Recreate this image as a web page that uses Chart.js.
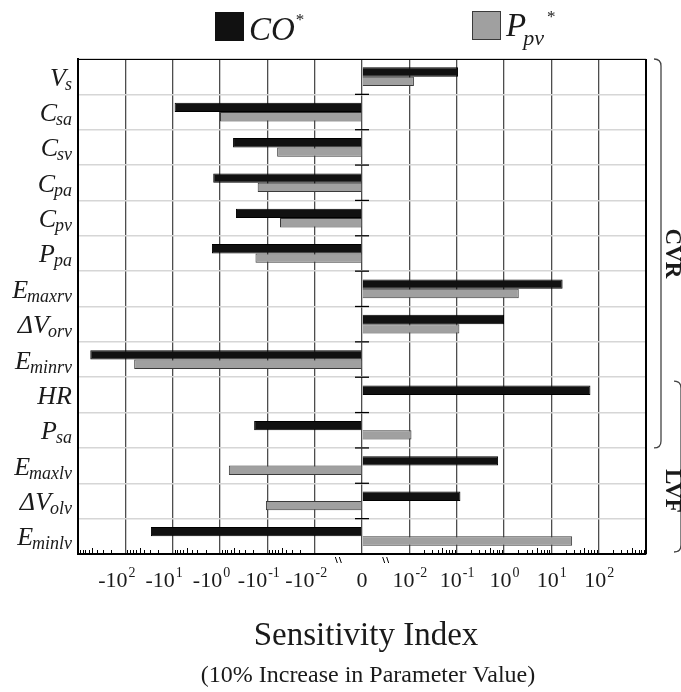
<!DOCTYPE html>
<html>
<head>
<meta charset="utf-8">
<title>Sensitivity Index</title>
<script src="https://cdn.jsdelivr.net/npm/chart.js@4.4.1/dist/chart.umd.min.js"></script>
<style>
  html, body { margin: 0; padding: 0; background: #fff; }
  canvas { display: block; }
</style>
</head>
<body>
<canvas id="sensitivity" width="681" height="692"></canvas>
<script>
// parameter names: symbol + subscript
const paramSymbols = ['V', 'C', 'C', 'C', 'C', 'P', 'E', 'ΔV', 'E', 'HR', 'P', 'E', 'ΔV', 'E'];
const paramSubscripts = ['s', 'sa', 'sv', 'pa', 'pv', 'pa', 'maxrv', 'orv', 'minrv', '', 'sa', 'maxlv', 'olv', 'minlv'];
const categories = paramSymbols.map((s, i) => paramSubscripts[i] ? s + '_' + paramSubscripts[i] : s);

// sensitivity of CO* and Ppv* to a 10% parameter increase
const coValues  = [0.107, -9.1, -0.53, -1.39, -0.46, -1.48, 17.3, 1.0, -550, 67, -0.19, 0.75, 0.12, -28.8];
const ppvValues = [0.0125, -1.0, -0.062, -0.16, -0.054, -0.178, 2.05, 0.114, -65, null, 0.0111, -0.65, -0.107, 27.5];

const xTicks = [-100, -10, -1, -0.1, -0.01, 0, 0.01, 0.1, 1, 10, 100];
const xMin = -1000;
const xMax = 1000;

// parameter groups marked with braces on the right
const groupNames = ['CVR', 'LVF'];
const groupFirst = [0, 9];
const groupLast = [10, 13];

const SERIF = '"Liberation Serif", "DejaVu Serif", serif';
const LINEAR_DECADE = 3; // 10^-3 sits on the zero line

// symmetric log: each decade is one unit, the band around zero is linearised away
function toAxis(v) {
    if (v === 0) return 0;
    return Math.sign(v) * (Math.log10(Math.abs(v)) + LINEAR_DECADE);
}
function fromAxis(t) {
    if (t === 0) return 0;
    return Math.sign(t) * Math.pow(10, Math.abs(t) - LINEAR_DECADE);
}

class SymLogScale extends Chart.LinearScale {
    determineDataLimits() {
        this.min = toAxis(this.options.min);
        this.max = toAxis(this.options.max);
    }
    buildTicks() {
        return xTicks.map(v => ({ value: v }));
    }
    getPixelForValue(value) {
        return value === null || value === undefined ? NaN : super.getPixelForValue(toAxis(value));
    }
    getValueForPixel(pixel) {
        return fromAxis(super.getValueForPixel(pixel));
    }
}
SymLogScale.id = 'symlog';
SymLogScale.defaults = {};
Chart.register(SymLogScale);

function textWidth(ctx, font, s) {
    ctx.font = font;
    return ctx.measureText(s).width;
}

const decorations = {
    id: 'decorations',
    afterDraw(chart) {
        const { ctx, chartArea: area, scales: { x, y } } = chart;
        const band = (y.getPixelForValue(1) - y.getPixelForValue(0));
        const zeroX = x.getPixelForValue(0);
        ctx.save();
        ctx.fillStyle = '#1a1a1a';
        ctx.strokeStyle = '#000';

        // top and right frame
        ctx.lineWidth = 1.2;
        ctx.beginPath();
        ctx.moveTo(area.left, area.top + 0.5);
        ctx.lineTo(area.right, area.top + 0.5);
        ctx.stroke();
        ctx.lineWidth = 2;
        ctx.beginPath();
        ctx.moveTo(area.right, area.top);
        ctx.lineTo(area.right, area.bottom);
        ctx.stroke();

        // short ticks on the zero line at each row boundary
        ctx.lineWidth = 1.3;
        for (let i = 1; i < categories.length; i++) {
            const by = y.getPixelForValue(i) - band / 2;
            ctx.beginPath();
            ctx.moveTo(zeroX - 7, by);
            ctx.lineTo(zeroX + 7, by);
            ctx.stroke();
        }

        // minor log ticks along the bottom axis
        ctx.lineWidth = 1;
        for (let e = -2; e <= 2; e++) {
            for (let k = 2; k <= 9; k++) {
                [1, -1].forEach(s => {
                    const px = Math.round(x.getPixelForValue(s * k * Math.pow(10, e))) + 0.5;
                    ctx.beginPath();
                    ctx.moveTo(px, area.bottom);
                    ctx.lineTo(px, area.bottom - (k === 5 ? 6 : 4));
                    ctx.stroke();
                });
            }
        }

        // axis break marks either side of zero
        [-0.01, 0.01].forEach(v => {
            const mx = (zeroX + x.getPixelForValue(v)) / 2;
            [-2, 2].forEach(d => {
                ctx.beginPath();
                ctx.moveTo(mx + d - 1, area.bottom + 3);
                ctx.lineTo(mx + d + 1, area.bottom + 9);
                ctx.stroke();
            });
        });

        // x tick labels with exponents
        const baseFont = `22px ${SERIF}`;
        const supFont = `14px ${SERIF}`;
        ctx.textBaseline = 'alphabetic';
        ctx.textAlign = 'left';
        xTicks.forEach(v => {
            const px = x.getPixelForValue(v);
            if (v === 0) {
                ctx.font = baseFont;
                ctx.textAlign = 'center';
                ctx.fillText('0', px, 587);
                ctx.textAlign = 'left';
                return;
            }
            const base = (v < 0 ? '-' : '') + '10';
            const exp = String(Math.round(Math.log10(Math.abs(v))));
            const wBase = textWidth(ctx, baseFont, base);
            const wExp = textWidth(ctx, supFont, exp);
            let left = px - (wBase + wExp) / 2;
            if (v < 0) left -= 9;
            ctx.font = baseFont;
            ctx.fillText(base, left, 587);
            ctx.font = supFont;
            ctx.fillText(exp, left + wBase + 1, 577);
        });

        // parameter labels
        ctx.textAlign = 'right';
        const labelRight = 72;
        categories.forEach((_, i) => {
            const cy = y.getPixelForValue(i);
            const sub = paramSubscripts[i];
            let subW = 0;
            if (sub) {
                ctx.font = `italic 18px ${SERIF}`;
                subW = ctx.measureText(sub).width;
                ctx.fillText(sub, labelRight, cy + 13);
            }
            ctx.font = `italic 26px ${SERIF}`;
            ctx.fillText(paramSymbols[i], labelRight - subW + (sub ? 1 : 0), cy + 9);
        });

        // group braces
        ctx.strokeStyle = '#444';
        ctx.lineWidth = 1.3;
        const braceX = [661, 681];
        const braceInset = [4, 4];
        groupNames.forEach((name, g) => {
            const top = y.getPixelForValue(groupFirst[g]) - band / 2 + braceInset[g] * g;
            const bottom = y.getPixelForValue(groupLast[g]) + band / 2 - (g ? 2 : 0);
            const bx = braceX[g];
            ctx.beginPath();
            ctx.moveTo(bx - 7, top);
            ctx.quadraticCurveTo(bx, top, bx, top + 7);
            ctx.lineTo(bx, bottom - 7);
            ctx.quadraticCurveTo(bx, bottom, bx - 7, bottom);
            ctx.stroke();
        });
        ctx.font = `bold 23px ${SERIF}`;
        ctx.textAlign = 'center';
        ctx.textBaseline = 'middle';
        const groupLabelY = [
            (y.getPixelForValue(groupFirst[0]) + y.getPixelForValue(groupLast[0])) / 2,
            y.getPixelForValue(12) - 10
        ];
        groupNames.forEach((name, g) => {
            ctx.save();
            ctx.translate(672, groupLabelY[g]);
            ctx.rotate(Math.PI / 2);
            ctx.fillText(name, 0, 0);
            ctx.restore();
        });

        // legend
        ctx.textBaseline = 'alphabetic';
        ctx.textAlign = 'left';
        const ds = chart.data.datasets;
        ctx.fillStyle = ds[0].backgroundColor;
        ctx.fillRect(215, 12, 29, 29);
        ctx.fillStyle = ds[1].backgroundColor;
        ctx.fillRect(472, 11, 29, 29);
        ctx.strokeStyle = ds[1].borderColor;
        ctx.lineWidth = 1;
        ctx.strokeRect(472.5, 11.5, 28, 28);
        ctx.fillStyle = '#1a1a1a';
        ctx.font = `italic 33px ${SERIF}`;
        ctx.fillText('CO', 249, 40);
        const coW = ctx.measureText('CO').width;
        ctx.font = `17px ${SERIF}`;
        ctx.fillText('*', 249 + coW + 1, 25);
        ctx.font = `italic 33px ${SERIF}`;
        ctx.fillText('P', 506, 36);
        const pW = ctx.measureText('P').width;
        ctx.font = `italic 22px ${SERIF}`;
        ctx.fillText('pv', 506 + pW - 3, 45);
        const pvW = ctx.measureText('pv').width;
        ctx.font = `17px ${SERIF}`;
        ctx.fillText('*', 506 + pW + pvW, 22);

        // axis title
        ctx.textAlign = 'center';
        ctx.font = `33px ${SERIF}`;
        ctx.fillText('Sensitivity Index', 366, 645);
        ctx.font = `24px ${SERIF}`;
        ctx.fillText('(10% Increase in Parameter Value)', 368, 682);

        ctx.restore();
    }
};

new Chart(document.getElementById('sensitivity'), {
    type: 'bar',
    data: {
        labels: categories,
        datasets: [
            {
                label: 'CO*',
                data: coValues,
                backgroundColor: '#111111',
                borderColor: '#000000',
                borderWidth: 1,
                categoryPercentage: 0.53,
                barPercentage: 1.0
            },
            {
                label: 'Ppv*',
                data: ppvValues,
                backgroundColor: '#a0a0a0',
                borderColor: '#3a3a3a',
                borderWidth: 1,
                categoryPercentage: 0.53,
                barPercentage: 1.0
            }
        ]
    },
    options: {
        indexAxis: 'y',
        responsive: false,
        animation: false,
        devicePixelRatio: 1,
        layout: { padding: { left: 78, right: 35, top: 59, bottom: 138 } },
        plugins: {
            legend: { display: false },
            tooltip: { enabled: false }
        },
        scales: {
            x: {
                type: 'symlog',
                min: xMin,
                max: xMax,
                grid: { color: '#4d4d4d', lineWidth: 1.3, drawTicks: false },
                border: { color: '#000', width: 2 },
                ticks: { display: false }
            },
            y: {
                grid: { color: '#d6d6d6', lineWidth: 1.5, drawTicks: false, offset: true },
                border: { color: '#000', width: 2 },
                ticks: { display: false }
            }
        }
    },
    plugins: [decorations]
});
</script>
</body>
</html>
